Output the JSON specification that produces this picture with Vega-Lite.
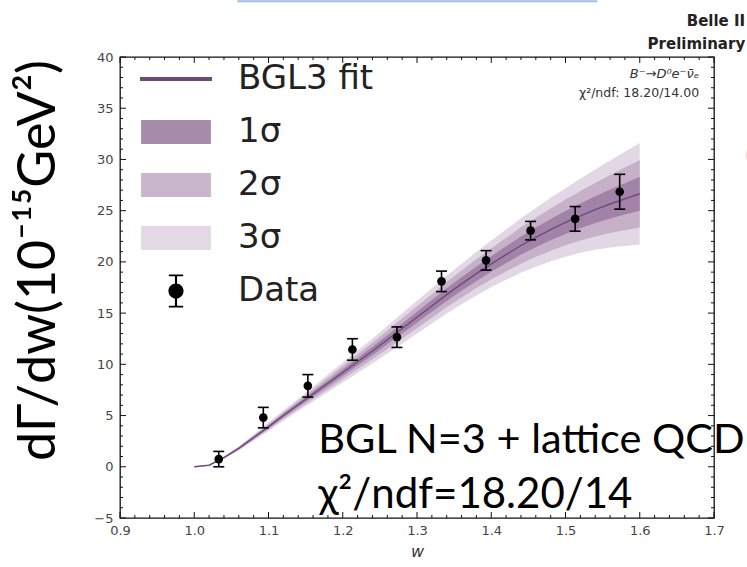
{
  "$schema": "https://vega.github.io/schema/vega-lite/v6.json",
  "width": 594,
  "height": 461,
  "autosize": {"type": "none"},
  "padding": {"left": 120, "top": 57, "right": 33, "bottom": 49},
  "background": "white",
  "config": {
    "view": {"stroke": "#111111", "strokeWidth": 1.3},
    "axis": {
      "grid": false,
      "domain": false,
      "ticks": false,
      "labelFont": "DejaVu Sans",
      "labelFontSize": 13,
      "labelColor": "#454545",
      "labelFlush": false,
      "labelOverlap": false
    }
  },
  "datasets": {
    "band": [
      {"w": 1.00, "fit": 0.00, "lo1": 0.00, "hi1": 0.00, "lo2": 0.00, "hi2": 0.00, "lo3": 0.00, "hi3": 0.00},
      {"w": 1.02, "fit": 0.15, "lo1": 0.13, "hi1": 0.17, "lo2": 0.12, "hi2": 0.18, "lo3": 0.10, "hi3": 0.20},
      {"w": 1.04, "fit": 0.90, "lo1": 0.86, "hi1": 0.94, "lo2": 0.82, "hi2": 0.98, "lo3": 0.78, "hi3": 1.02},
      {"w": 1.06, "fit": 1.80, "lo1": 1.73, "hi1": 1.87, "lo2": 1.67, "hi2": 1.93, "lo3": 1.60, "hi3": 2.00},
      {"w": 1.08, "fit": 2.85, "lo1": 2.75, "hi1": 2.95, "lo2": 2.65, "hi2": 3.05, "lo3": 2.55, "hi3": 3.15},
      {"w": 1.10, "fit": 3.90, "lo1": 3.77, "hi1": 4.03, "lo2": 3.63, "hi2": 4.17, "lo3": 3.50, "hi3": 4.30},
      {"w": 1.12, "fit": 5.00, "lo1": 4.83, "hi1": 5.17, "lo2": 4.67, "hi2": 5.33, "lo3": 4.50, "hi3": 5.50},
      {"w": 1.14, "fit": 6.05, "lo1": 5.85, "hi1": 6.25, "lo2": 5.65, "hi2": 6.45, "lo3": 5.45, "hi3": 6.65},
      {"w": 1.16, "fit": 7.10, "lo1": 6.86, "hi1": 7.34, "lo2": 6.62, "hi2": 7.58, "lo3": 6.38, "hi3": 7.82},
      {"w": 1.18, "fit": 8.15, "lo1": 7.87, "hi1": 8.43, "lo2": 7.58, "hi2": 8.72, "lo3": 7.30, "hi3": 9.00},
      {"w": 1.20, "fit": 9.20, "lo1": 8.87, "hi1": 9.53, "lo2": 8.55, "hi2": 9.85, "lo3": 8.22, "hi3": 10.18},
      {"w": 1.22, "fit": 10.25, "lo1": 9.88, "hi1": 10.62, "lo2": 9.52, "hi2": 10.98, "lo3": 9.15, "hi3": 11.35},
      {"w": 1.24, "fit": 11.30, "lo1": 10.89, "hi1": 11.71, "lo2": 10.49, "hi2": 12.11, "lo3": 10.08, "hi3": 12.52},
      {"w": 1.26, "fit": 12.40, "lo1": 11.95, "hi1": 12.85, "lo2": 11.50, "hi2": 13.30, "lo3": 11.05, "hi3": 13.75},
      {"w": 1.28, "fit": 13.50, "lo1": 13.01, "hi1": 13.99, "lo2": 12.51, "hi2": 14.49, "lo3": 12.02, "hi3": 14.98},
      {"w": 1.30, "fit": 14.60, "lo1": 14.07, "hi1": 15.13, "lo2": 13.53, "hi2": 15.67, "lo3": 13.00, "hi3": 16.20},
      {"w": 1.32, "fit": 15.70, "lo1": 15.13, "hi1": 16.27, "lo2": 14.55, "hi2": 16.85, "lo3": 13.98, "hi3": 17.42},
      {"w": 1.34, "fit": 16.80, "lo1": 16.18, "hi1": 17.42, "lo2": 15.57, "hi2": 18.03, "lo3": 14.95, "hi3": 18.65},
      {"w": 1.36, "fit": 17.85, "lo1": 17.19, "hi1": 18.51, "lo2": 16.53, "hi2": 19.17, "lo3": 15.87, "hi3": 19.83},
      {"w": 1.38, "fit": 18.85, "lo1": 18.14, "hi1": 19.56, "lo2": 17.44, "hi2": 20.26, "lo3": 16.73, "hi3": 20.97},
      {"w": 1.40, "fit": 19.80, "lo1": 19.04, "hi1": 20.56, "lo2": 18.28, "hi2": 21.32, "lo3": 17.52, "hi3": 22.08},
      {"w": 1.42, "fit": 20.70, "lo1": 19.88, "hi1": 21.52, "lo2": 19.07, "hi2": 22.33, "lo3": 18.25, "hi3": 23.15},
      {"w": 1.44, "fit": 21.60, "lo1": 20.72, "hi1": 22.48, "lo2": 19.83, "hi2": 23.37, "lo3": 18.95, "hi3": 24.25},
      {"w": 1.46, "fit": 22.40, "lo1": 21.44, "hi1": 23.36, "lo2": 20.49, "hi2": 24.31, "lo3": 19.53, "hi3": 25.27},
      {"w": 1.48, "fit": 23.15, "lo1": 22.12, "hi1": 24.18, "lo2": 21.08, "hi2": 25.22, "lo3": 20.05, "hi3": 26.25},
      {"w": 1.50, "fit": 23.85, "lo1": 22.73, "hi1": 24.97, "lo2": 21.62, "hi2": 26.08, "lo3": 20.50, "hi3": 27.20},
      {"w": 1.52, "fit": 24.50, "lo1": 23.29, "hi1": 25.71, "lo2": 22.09, "hi2": 26.91, "lo3": 20.88, "hi3": 28.12},
      {"w": 1.54, "fit": 25.10, "lo1": 23.79, "hi1": 26.41, "lo2": 22.49, "hi2": 27.71, "lo3": 21.18, "hi3": 29.02},
      {"w": 1.56, "fit": 25.65, "lo1": 24.23, "hi1": 27.07, "lo2": 22.82, "hi2": 28.48, "lo3": 21.40, "hi3": 29.90},
      {"w": 1.58, "fit": 26.15, "lo1": 24.62, "hi1": 27.68, "lo2": 23.08, "hi2": 29.22, "lo3": 21.55, "hi3": 30.75},
      {"w": 1.60, "fit": 26.65, "lo1": 25.00, "hi1": 28.30, "lo2": 23.35, "hi2": 29.95, "lo3": 21.70, "hi3": 31.60}
    ],
    "meas": [
      {"w": 1.033, "y": 0.75, "lo": 0.00, "hi": 1.50, "series": "Data"},
      {"w": 1.093, "y": 4.80, "lo": 3.80, "hi": 5.80, "series": "Data"},
      {"w": 1.153, "y": 7.90, "lo": 6.80, "hi": 9.00, "series": "Data"},
      {"w": 1.213, "y": 11.45, "lo": 10.40, "hi": 12.50, "series": "Data"},
      {"w": 1.273, "y": 12.65, "lo": 11.65, "hi": 13.65, "series": "Data"},
      {"w": 1.333, "y": 18.10, "lo": 17.10, "hi": 19.10, "series": "Data"},
      {"w": 1.393, "y": 20.15, "lo": 19.20, "hi": 21.10, "series": "Data"},
      {"w": 1.453, "y": 23.05, "lo": 22.15, "hi": 23.95, "series": "Data"},
      {"w": 1.513, "y": 24.20, "lo": 23.00, "hi": 25.40, "series": "Data"},
      {"w": 1.573, "y": 26.85, "lo": 25.15, "hi": 28.55, "series": "Data"}
    ],
    "legendkeys": [
      {"series": "BGL3 fit"},
      {"series": "1σ"},
      {"series": "2σ"},
      {"series": "3σ"},
      {"series": "Data"}
    ],
    "xmajor": [{"v": 0.9}, {"v": 1.0}, {"v": 1.1}, {"v": 1.2}, {"v": 1.3}, {"v": 1.4}, {"v": 1.5}, {"v": 1.6}, {"v": 1.7}],
    "xminor": [{"v": 0.92}, {"v": 0.94}, {"v": 0.96}, {"v": 0.98}, {"v": 1.02}, {"v": 1.04}, {"v": 1.06}, {"v": 1.08}, {"v": 1.12}, {"v": 1.14}, {"v": 1.16}, {"v": 1.18}, {"v": 1.22}, {"v": 1.24}, {"v": 1.26}, {"v": 1.28}, {"v": 1.32}, {"v": 1.34}, {"v": 1.36}, {"v": 1.38}, {"v": 1.42}, {"v": 1.44}, {"v": 1.46}, {"v": 1.48}, {"v": 1.52}, {"v": 1.54}, {"v": 1.56}, {"v": 1.58}, {"v": 1.62}, {"v": 1.64}, {"v": 1.66}, {"v": 1.68}],
    "ymajor": [{"v": -5}, {"v": 0}, {"v": 5}, {"v": 10}, {"v": 15}, {"v": 20}, {"v": 25}, {"v": 30}, {"v": 35}, {"v": 40}],
    "yminor": [{"v": -4}, {"v": -3}, {"v": -2}, {"v": -1}, {"v": 1}, {"v": 2}, {"v": 3}, {"v": 4}, {"v": 6}, {"v": 7}, {"v": 8}, {"v": 9}, {"v": 11}, {"v": 12}, {"v": 13}, {"v": 14}, {"v": 16}, {"v": 17}, {"v": 18}, {"v": 19}, {"v": 21}, {"v": 22}, {"v": 23}, {"v": 24}, {"v": 26}, {"v": 27}, {"v": 28}, {"v": 29}, {"v": 31}, {"v": 32}, {"v": 33}, {"v": 34}, {"v": 36}, {"v": 37}, {"v": 38}, {"v": 39}]
  },
  "layer": [
    {
      "data": {"name": "band"},
      "mark": {"type": "area", "color": "#e2d8e5", "opacity": 1},
      "encoding": {
        "x": {"field": "w", "type": "quantitative", "scale": {"domain": [0.9, 1.7], "nice": false, "zero": false},
          "axis": {"orient": "bottom", "values": [0.9, 1.0, 1.1, 1.2, 1.3, 1.4, 1.5, 1.6, 1.7], "format": ".1f", "labelPadding": 6,
            "title": "w", "titleFont": "DejaVu Sans", "titleFontStyle": "italic", "titleFontWeight": "normal", "titleFontSize": 16, "titleColor": "#333333", "titlePadding": 6}},
        "y": {"field": "lo3", "type": "quantitative", "scale": {"domain": [-5, 40], "nice": false, "zero": false},
          "axis": {"orient": "left", "values": [-5, 0, 5, 10, 15, 20, 25, 30, 35, 40], "labelPadding": 7,
            "title": "dΓ/dw(10⁻¹⁵GeV²)", "titleFont": "Lato", "titleFontSize": 52, "titleFontWeight": "normal", "titleColor": "#000000",
            "titleAngle": -90, "titleBaseline": "alphabetic", "titleX": -66, "titleY": 203, "titleAnchor": "middle"}},
        "y2": {"field": "hi3"}
      }
    },
    {
      "data": {"name": "band"},
      "mark": {"type": "area", "color": "#c6b1c9", "opacity": 1},
      "encoding": {
        "x": {"field": "w", "type": "quantitative", "axis": null},
        "y": {"field": "lo2", "type": "quantitative", "axis": null},
        "y2": {"field": "hi2"}
      }
    },
    {
      "data": {"name": "band"},
      "mark": {"type": "area", "color": "#a283a8", "opacity": 1},
      "encoding": {
        "x": {"field": "w", "type": "quantitative", "axis": null},
        "y": {"field": "lo1", "type": "quantitative", "axis": null},
        "y2": {"field": "hi1"}
      }
    },
    {
      "data": {"name": "band"},
      "mark": {"type": "line", "color": "#6e4a7c", "strokeWidth": 1.4},
      "encoding": {
        "x": {"field": "w", "type": "quantitative", "axis": null},
        "y": {"field": "fit", "type": "quantitative", "axis": null}
      }
    },
    {
      "data": {"name": "xmajor"},
      "mark": {"type": "tick", "orient": "vertical", "color": "#111111", "size": 6, "thickness": 1, "yOffset": -3, "opacity": 1},
      "encoding": {"x": {"field": "v", "type": "quantitative", "axis": null}, "y": {"datum": -5, "type": "quantitative", "axis": null}}
    },
    {
      "data": {"name": "xmajor"},
      "mark": {"type": "tick", "orient": "vertical", "color": "#111111", "size": 6, "thickness": 1, "yOffset": 3, "opacity": 1},
      "encoding": {"x": {"field": "v", "type": "quantitative", "axis": null}, "y": {"datum": 40, "type": "quantitative", "axis": null}}
    },
    {
      "data": {"name": "xminor"},
      "mark": {"type": "tick", "orient": "vertical", "color": "#111111", "size": 3, "thickness": 1, "yOffset": -1.5, "opacity": 1},
      "encoding": {"x": {"field": "v", "type": "quantitative", "axis": null}, "y": {"datum": -5, "type": "quantitative", "axis": null}}
    },
    {
      "data": {"name": "xminor"},
      "mark": {"type": "tick", "orient": "vertical", "color": "#111111", "size": 3, "thickness": 1, "yOffset": 1.5, "opacity": 1},
      "encoding": {"x": {"field": "v", "type": "quantitative", "axis": null}, "y": {"datum": 40, "type": "quantitative", "axis": null}}
    },
    {
      "data": {"name": "ymajor"},
      "mark": {"type": "tick", "orient": "horizontal", "color": "#111111", "size": 6, "thickness": 1, "xOffset": 3, "opacity": 1},
      "encoding": {"y": {"field": "v", "type": "quantitative", "axis": null}, "x": {"datum": 0.9, "type": "quantitative", "axis": null}}
    },
    {
      "data": {"name": "ymajor"},
      "mark": {"type": "tick", "orient": "horizontal", "color": "#111111", "size": 6, "thickness": 1, "xOffset": -3, "opacity": 1},
      "encoding": {"y": {"field": "v", "type": "quantitative", "axis": null}, "x": {"datum": 1.7, "type": "quantitative", "axis": null}}
    },
    {
      "data": {"name": "yminor"},
      "mark": {"type": "tick", "orient": "horizontal", "color": "#111111", "size": 3, "thickness": 1, "xOffset": 1.5, "opacity": 1},
      "encoding": {"y": {"field": "v", "type": "quantitative", "axis": null}, "x": {"datum": 0.9, "type": "quantitative", "axis": null}}
    },
    {
      "data": {"name": "yminor"},
      "mark": {"type": "tick", "orient": "horizontal", "color": "#111111", "size": 3, "thickness": 1, "xOffset": -1.5, "opacity": 1},
      "encoding": {"y": {"field": "v", "type": "quantitative", "axis": null}, "x": {"datum": 1.7, "type": "quantitative", "axis": null}}
    },
    {
      "data": {"name": "meas"},
      "mark": {"type": "rule", "color": "#000000", "strokeWidth": 1.6},
      "encoding": {
        "x": {"field": "w", "type": "quantitative", "axis": null},
        "y": {"field": "lo", "type": "quantitative", "axis": null},
        "y2": {"field": "hi"}
      }
    },
    {
      "data": {"name": "meas"},
      "mark": {"type": "tick", "orient": "horizontal", "color": "#000000", "size": 11, "thickness": 1.6, "opacity": 1},
      "encoding": {
        "x": {"field": "w", "type": "quantitative", "axis": null},
        "y": {"field": "lo", "type": "quantitative", "axis": null}
      }
    },
    {
      "data": {"name": "meas"},
      "mark": {"type": "tick", "orient": "horizontal", "color": "#000000", "size": 11, "thickness": 1.6, "opacity": 1},
      "encoding": {
        "x": {"field": "w", "type": "quantitative", "axis": null},
        "y": {"field": "hi", "type": "quantitative", "axis": null}
      }
    },
    {
      "data": {"name": "meas"},
      "mark": {"type": "circle", "color": "#000000", "size": 75, "opacity": 1},
      "encoding": {
        "x": {"field": "w", "type": "quantitative", "axis": null},
        "y": {"field": "y", "type": "quantitative", "axis": null}
      }
    },
    {
      "data": {"name": "legendkeys"},
      "mark": {"type": "point", "filled": true, "opacity": 1},
      "encoding": {
        "x": {"field": "w", "type": "quantitative", "axis": null},
        "y": {"field": "y", "type": "quantitative", "axis": null},
        "color": {"field": "series", "type": "nominal",
          "scale": {"domain": ["BGL3 fit", "1σ", "2σ", "3σ", "Data"], "range": ["#6e4a7c", "#a88dab", "#c9b6ca", "#e3d9e4", "#000000"]},
          "legend": {"title": null, "orient": "none", "legendX": 20, "legendY": -14, "padding": 0, "symbolSize": 5184, "symbolStrokeWidth": 0, "symbolOpacity": 1,
            "labelFont": "DejaVu Sans", "labelFontSize": 34, "labelColor": "#222222", "labelOffset": 26, "rowPadding": -1.5, "labelLimit": 400}},
        "shape": {"field": "series", "type": "nominal",
          "scale": {"domain": ["BGL3 fit", "1σ", "2σ", "3σ", "Data"],
            "range": [
              "M-1,-0.055H1V0.055H-1Z",
              "M-0.97,-0.33H0.97V0.33H-0.97Z",
              "M-0.97,-0.33H0.97V0.33H-0.97Z",
              "M-0.97,-0.33H0.97V0.33H-0.97Z",
              "M-0.2,-0.46H0.2V-0.41H-0.2Z M-0.03,-0.44H0.03V0.44H-0.03Z M-0.2,0.41H0.2V0.46H-0.2Z M-0.21,0A0.21,0.21 0 1,1 0.21,0A0.21,0.21 0 1,1 -0.21,0Z"
            ]}}
      }
    },
    {
      "data": {"values": [{}]},
      "mark": {"type": "text", "text": "BGL N=3 + lattice QCD", "font": "Lato", "fontSize": 41.5, "align": "left", "baseline": "alphabetic", "color": "#000000"},
      "encoding": {"x": {"datum": 1.167, "type": "quantitative", "axis": null}, "y": {"datum": 1.3, "type": "quantitative", "axis": null}}
    },
    {
      "data": {"values": [{}]},
      "mark": {"type": "text", "text": "χ²/ndf=18.20/14", "font": "Lato", "fontSize": 42, "align": "left", "baseline": "alphabetic", "color": "#000000"},
      "encoding": {"x": {"datum": 1.167, "type": "quantitative", "axis": null}, "y": {"datum": -4.0, "type": "quantitative", "axis": null}}
    },
    {
      "data": {"values": [{}]},
      "mark": {"type": "text", "text": "B⁻→D⁰e⁻ν̄ₑ", "font": "DejaVu Sans", "fontSize": 13, "fontStyle": "italic", "align": "right", "baseline": "middle", "color": "#333333"},
      "encoding": {"x": {"datum": 1.68, "type": "quantitative", "axis": null}, "y": {"datum": 38.3, "type": "quantitative", "axis": null}}
    },
    {
      "data": {"values": [{}]},
      "mark": {"type": "text", "text": "χ²/ndf:  18.20/14.00", "font": "DejaVu Sans", "fontSize": 12.5, "align": "right", "baseline": "middle", "color": "#333333"},
      "encoding": {"x": {"datum": 1.68, "type": "quantitative", "axis": null}, "y": {"datum": 36.5, "type": "quantitative", "axis": null}}
    },
    {
      "data": {"values": [{}]},
      "mark": {"type": "text", "text": "Belle II", "font": "DejaVu Sans", "fontSize": 15, "fontWeight": "bold", "align": "right", "baseline": "middle", "color": "#222222"},
      "encoding": {"x": {"datum": 1.742, "type": "quantitative", "axis": null}, "y": {"datum": 43.5, "type": "quantitative", "axis": null}}
    },
    {
      "data": {"values": [{}]},
      "mark": {"type": "text", "text": "Preliminary", "font": "DejaVu Sans", "fontSize": 15, "fontWeight": "bold", "align": "right", "baseline": "middle", "color": "#222222"},
      "encoding": {"x": {"datum": 1.742, "type": "quantitative", "axis": null}, "y": {"datum": 41.3, "type": "quantitative", "axis": null}}
    },
    {
      "data": {"values": [{}]},
      "mark": {"type": "text", "text": "(", "font": "Lato", "fontSize": 34, "align": "left", "baseline": "middle", "color": "#2f6db5"},
      "encoding": {"x": {"datum": 1.742, "type": "quantitative", "axis": null}, "y": {"datum": 30.3, "type": "quantitative", "axis": null}}
    },
    {
      "data": {"values": [{}]},
      "mark": {"type": "rule", "color": "#9dbde0", "strokeWidth": 2},
      "encoding": {"x": {"datum": 1.058, "type": "quantitative", "axis": null}, "x2": {"datum": 1.543}, "y": {"datum": 45.45, "type": "quantitative", "axis": null}}
    }
  ],
  "resolve": {"axis": {"x": "independent", "y": "independent"}}
}
